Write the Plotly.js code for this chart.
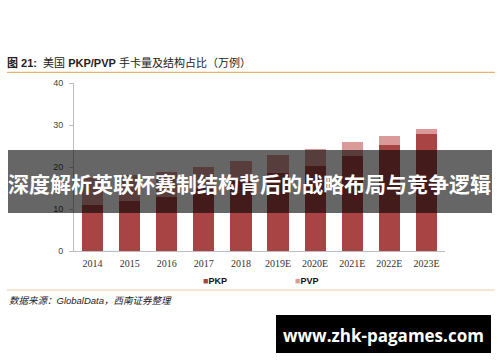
<!DOCTYPE html>
<html>
<head>
<meta charset="utf-8">
<script src="https://cdn.plot.ly/plotly-3.0.1.min.js"></script>
<style>html,body{margin:0;padding:0;background:#fff;}#chart{width:500px;height:362px;}</style>
</head>
<body>
<div id="chart"></div>
<script>
// Data
const years = ['2014','2015','2016','2017','2018','2019E','2020E','2021E','2022E','2023E'];
const pkp = [11.0, 12.0, 12.9, 14.9, 16.7, 18.5, 20.3, 22.6, 25.2, 27.9];
const pvp = [6.3, 6.1, 6.0, 5.2, 4.7, 4.4, 4.0, 3.3, 2.2, 1.1];
const yTicks = [0, 10, 20, 30, 40];

const titleText = '<b>图 21:</b>  美国 <b>PKP/PVP</b> 手卡量及结构占比（万例）';
const sourceText = '<i>数据来源：GlobalData，西南证券整理</i>';
const bannerText = '深度解析英联杯赛制结构背后的战略布局与竞争逻辑';
const siteText = 'www.zhk-pagames.com';

const colPKP = '#A94444';
const colPVP = '#DB9A99';

// pixel -> paper helpers (plot area: x 74..445, y 83..251)
const L = 74, R = 445, T = 83, B = 251;
const fx = X => (X - L) / (R - L);
const fy = Y => (B - Y) / (B - T);

const traces = [
  {type:'bar', name:'PKP', x: years, y: pkp, marker:{color: colPKP}},
  {type:'bar', name:'PVP', x: years, y: pvp, marker:{color: colPVP}}
];

const layout = {
  width: 500, height: 362,
  margin: {l: L, r: 500 - R, t: T, b: 362 - B, pad: 0},
  paper_bgcolor: '#fff', plot_bgcolor: '#fff',
  barmode: 'stack', bargap: 0.43,
  showlegend: false,
  title: {
    text: titleText, xref: 'container', yref: 'container',
    x: 7/500, xanchor: 'left', y: 1 - 63/362, yanchor: 'middle',
    font: {family: 'Liberation Sans, Noto Sans CJK SC, sans-serif', size: 11, color: '#222'}
  },
  xaxis: {
    type: 'category', range: [-0.5, 9.5], showline: true, linecolor: '#BDBDBD', linewidth: 1,
    ticks: '', showgrid: false, zeroline: false, fixedrange: true,
    tickfont: {family: 'Liberation Serif, DejaVu Serif, serif', size: 10, color: '#333'},
    ticklabelstandoff: 3
  },
  yaxis: {
    range: [0, 40], tickvals: yTicks, ticktext: yTicks.map(String),
    showline: true, linecolor: '#BDBDBD', linewidth: 1,
    ticks: 'outside', ticklen: 4, tickcolor: '#BDBDBD',
    showgrid: false, zeroline: false, fixedrange: true,
    tickfont: {family: 'Liberation Sans, Arial, sans-serif', size: 9, color: '#444'},
    ticklabelstandoff: 4
  },
  shapes: [
    {type:'line', xref:'paper', yref:'paper', x0: fx(7), x1: fx(495), y0: fy(72.3), y1: fy(72.3),
     line:{color:'#E0A24E', width:1}},
    {type:'line', xref:'paper', yref:'paper', x0: fx(7), x1: fx(495), y0: fy(290), y1: fy(290),
     line:{color:'#EBCFA8', width:1}},
    {type:'rect', xref:'paper', yref:'paper', x0: fx(8), x1: fx(492), y0: fy(150), y1: fy(213),
     fillcolor:'rgba(0,0,0,0.6)', line:{width:0}, layer:'above'},
    {type:'rect', xref:'paper', yref:'paper', x0: fx(276), x1: fx(491), y0: fy(315), y1: fy(353),
     fillcolor:'#000', line:{width:0}, layer:'above'}
  ],
  annotations: [
    {xref:'paper', yref:'paper', x: fx(201), y: fy(281), xanchor:'left', yanchor:'middle', showarrow:false,
     text: '<span style="color:'+colPKP+'">■</span><b>PKP</b>',
     font:{family:'Liberation Sans, Arial, sans-serif', size: 9, color:'#111'}},
    {xref:'paper', yref:'paper', x: fx(293), y: fy(281), xanchor:'left', yanchor:'middle', showarrow:false,
     text: '<span style="color:'+colPVP+'">■</span><b>PVP</b>',
     font:{family:'Liberation Sans, Arial, sans-serif', size: 9, color:'#111'}},
    {xref:'paper', yref:'paper', x: fx(7), y: fy(300), xanchor:'left', yanchor:'middle', showarrow:false,
     text: sourceText, font:{family:'Liberation Sans, Noto Sans CJK SC, sans-serif', size: 9.5, color:'#222'}},
    {xref:'paper', yref:'paper', x: fx(249.5), y: fy(182.5), xanchor:'center', yanchor:'middle', showarrow:false,
     text: '<b>'+bannerText+'</b>', font:{family:'Noto Sans CJK SC, sans-serif', size: 21, color:'#fff'}},
    {xref:'paper', yref:'paper', x: fx(383), y: fy(335), xanchor:'center', yanchor:'middle', showarrow:false,
     text: '<b>'+siteText+'</b>', font:{family:'Open Sans, DejaVu Sans, sans-serif', size: 17, color:'#fff'}}
  ]
};

Plotly.newPlot('chart', traces, layout, {staticPlot: true, displayModeBar: false});
</script>
</body>
</html>
